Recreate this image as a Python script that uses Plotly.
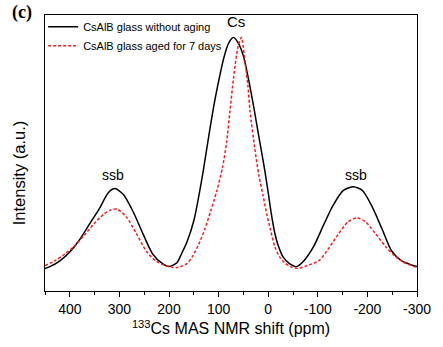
import plotly.graph_objects as go

# 133Cs MAS NMR shift (ppm) and intensity (a.u.)
ppm_fresh = [450, 440, 420, 400, 381, 361, 341, 322, 309, 292, 272, 252, 233, 213, 200,
             184, 174, 164, 150, 140, 131, 122, 112, 102, 89, 80, 70, 60, 50, 40, 30,
             17, 7, 0, -6, -13, -20, -30, -43, -57, -72, -92, -112, -131, -151, -172,
             -190, -210, -230, -249, -269, -300]
int_fresh = [23, 25, 31, 40, 52, 68, 84, 101, 105, 99, 81, 58, 38, 28, 25,
             29, 39, 50, 72, 97, 123, 152, 183, 210, 240, 254, 260, 254, 241, 218, 191,
             153, 124, 101, 80, 60, 47, 35, 28, 25, 31, 46, 68, 88, 103, 107,
             103, 86, 63, 41, 31, 25]

ppm_aged = [450, 430, 410, 391, 371, 351, 331, 318, 305, 286, 266, 246, 227, 207, 184,
            164, 152, 140, 128, 116, 104, 92, 84, 77, 69.5, 61, 54, 46.5, 41, 36.6, 27,
            19, 10.4, 3, -5, -13, -23, -33, -45, -59, -78, -102, -121, -141, -161, -179,
            -196, -216, -236, -255, -275, -300]
int_aged = [26, 31, 38, 46, 57, 69, 79, 83, 84, 76, 59, 41, 31, 26, 24,
            28, 36, 48, 63, 82, 102, 127, 152, 185, 220, 250, 260, 234, 211, 184, 146,
            119, 98, 79, 62, 46, 35, 29, 25, 23, 26, 31, 43, 58, 71, 75,
            71, 59, 46, 36, 29, 24]

x_ticks = [400, 300, 200, 100, 0, -100, -200, -300]
x_tick_labels = [str(v) for v in x_ticks]

fig = go.Figure()
fig.add_trace(go.Scatter(x=ppm_fresh, y=int_fresh, mode="lines",
                         name="CsAlB glass without aging",
                         line=dict(color="black", width=1.5, shape="spline", smoothing=0.7)))
fig.add_trace(go.Scatter(x=ppm_aged, y=int_aged, mode="lines",
                         name="CsAlB glass aged for 7 days",
                         line=dict(color="#ff1a1a", width=1.5, dash="3px,2px",
                                   shape="spline", smoothing=0.7)))

font_main = "Arial, Liberation Sans, sans-serif"

fig.update_layout(
    width=443, height=347,
    margin=dict(l=45, r=17, t=13, b=51),
    paper_bgcolor="white", plot_bgcolor="white",
    font=dict(family=font_main, color="black"),
    showlegend=True,
    legend=dict(x=-0.005, y=1.01, xanchor="left", yanchor="top",
                bgcolor="rgba(0,0,0,0)", font=dict(size=11, family=font_main),
                itemwidth=30, tracegroupgap=0),
    xaxis=dict(range=[450, -300], showline=True, linecolor="black", linewidth=1,
               mirror=True, ticks="outside", ticklen=5, tickwidth=1, tickcolor="black",
               tickvals=x_ticks, ticktext=x_tick_labels,
               tickfont=dict(size=14, family=font_main),
               minor=dict(dtick=50, ticks="outside", ticklen=3, tickcolor="black", tickwidth=1),
               showgrid=False, zeroline=False,
               title=dict(text="<sup>133</sup>Cs MAS NMR shift (ppm)",
                          font=dict(size=16, family=font_main), standoff=7)),
    yaxis=dict(range=[0, 283], showline=True, linecolor="black", linewidth=1,
               mirror=True, ticks="", showticklabels=False, showgrid=False,
               zeroline=False),
    annotations=[
        dict(text="Intensity (a.u.)", textangle=-90, xref="paper", yref="paper",
             x=-0.07, y=0.43, xanchor="center", yanchor="middle", showarrow=False,
             font=dict(size=16.5, family=font_main)),
        dict(text="<b>(c)</b>", xref="paper", yref="paper", x=-0.063, y=1.01,
             xanchor="center", yanchor="middle", showarrow=False,
             font=dict(size=18, family="Liberation Serif, Times New Roman, serif")),
        dict(text="Cs", x=64, y=276, showarrow=False, font=dict(size=15, family=font_main)),
        dict(text="ssb", x=312, y=119, showarrow=False, font=dict(size=14, family=font_main)),
        dict(text="ssb", x=-176, y=119, showarrow=False, font=dict(size=14, family=font_main)),
    ],
)

fig.write_html("out.html")
